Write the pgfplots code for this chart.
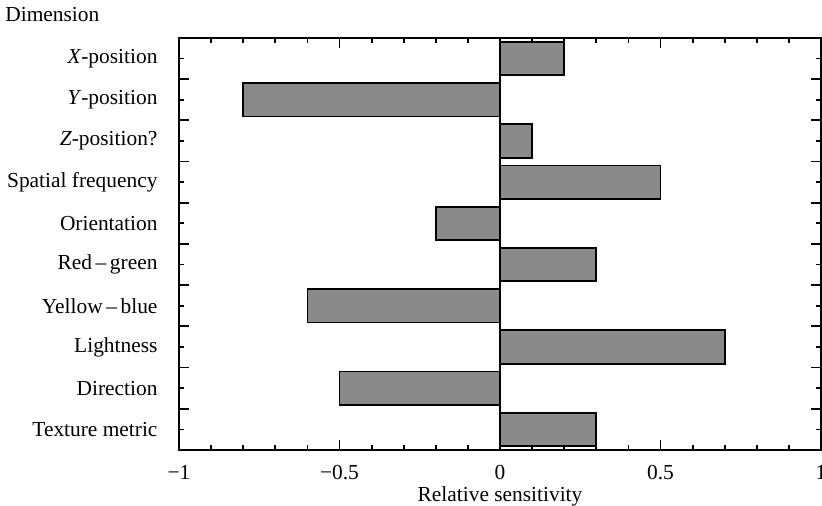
\documentclass[border=0pt]{standalone}
\usepackage{fontspec}
\setmainfont{Liberation Serif}
\usepackage{pgfplots}
\pgfplotsset{compat=1.18}
\definecolor{barfill}{RGB}{138,138,138}
\begin{document}
\fontsize{10.7}{12.8}\selectfont
\begin{tikzpicture}[font=\fontsize{10.7}{12.8}\selectfont]
\useasboundingbox (-89.5pt,-28pt) rectangle (321.5pt,225pt);
\begin{axis}[
  scale only axis, width=321pt, height=206pt,
  xmin=-1, xmax=1, ymin=0.5, ymax=10.5, y dir=reverse,
  xtick={-1,-0.5,0,0.5,1},
  xticklabels={−1,−0.5,0,0.5,1},
  minor x tick num=4,
  ytick={1,...,10},
  yticklabels={\textit{X}-position,\textit{Y}-position,\textit{Z}-position?,Spatial frequency,Orientation,Red\,–\,green,Yellow\,–\,blue,Lightness,Direction,Texture metric},
  minor ytick={0.5,1.5,...,10.5},
  major tick length=5pt, minor tick length=2.5pt,
  y tick style={/pgfplots/major tick length=2.5pt,/pgfplots/minor tick length=5pt},
  tick style={line width=0.9pt, black},
  axis line style={line width=1pt},
  xticklabel style={yshift=-4pt},
  yticklabel style={xshift=-7pt},
  xlabel={Relative sensitivity},
  xlabel style={at={(axis description cs:0.5,0)}, anchor=base, yshift=-25.5pt},
]
\addplot[xbar, bar width=0.81, fill=barfill, draw=black, line width=0.9pt]
  coordinates {(0.2,1) (-0.8,2) (0.1,3) (0.5,4) (-0.2,5) (0.3,6) (-0.6,7) (0.7,8) (-0.5,9) (0.3,10)};
\addplot[black, line width=0.9pt] coordinates {(0,0.5) (0,10.5)};
\end{axis}
\node[anchor=base west, inner sep=0pt] at ([xshift=-87pt,yshift=8pt]current axis.north west) {Dimension};
\end{tikzpicture}
\end{document}
